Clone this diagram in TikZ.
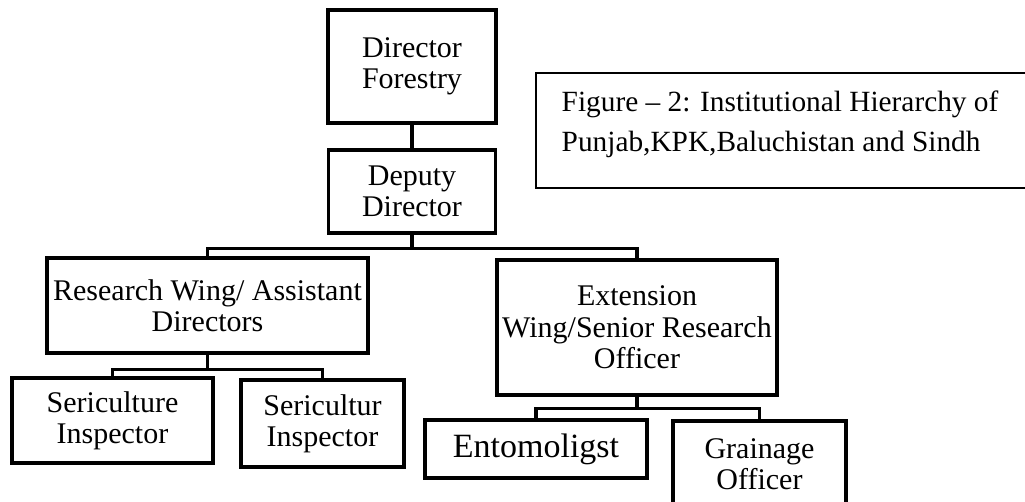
\documentclass[tikz,border=0pt]{standalone}
\usepackage{fontspec}
\setmainfont{Liberation Serif}
\begin{document}
\begin{tikzpicture}[x=0.75pt,y=-0.75pt,
	box/.style={draw,line width=2.7pt,inner sep=0pt,align=center,font=\fontsize{22.5}{23.5}\selectfont},
	link/.style={line width=2.5pt},
	capline/.style={anchor=base west,font=\fontsize{22}{30}\selectfont}]
	\useasboundingbox (0,0) rectangle (1025,502);
	\clip (0,0) rectangle (1025,502);
	% top of the hierarchy
	\node[box,minimum width=126pt,minimum height=84.75pt] (dir) at (412,66.5) {Director\\Forestry};
	\node[box,minimum width=125.25pt,minimum height=62.25pt] (dep) at (412,191.5) {Deputy\\Director};
	% wings
	\node[box,minimum width=240.75pt,minimum height=71.25pt] (res) at (207.5,305.5) {Research Wing/ Assistant\\Directors};
	\node[box,minimum width=210pt,minimum height=101.25pt] (ext) at (637,327.5) {Extension\\Wing/Senior Research\\Officer};
	% staff
	\node[box,minimum width=150.75pt,minimum height=63.75pt] (ser1) at (112.5,420.5) {Sericulture\\Inspector};
	\node[box,minimum width=122.25pt,minimum height=65.25pt] (ser2) at (322.5,423.5) {Sericultur\\Inspector};
	\node[box,minimum width=166.5pt,minimum height=43.5pt,font=\fontsize{25.5}{27}\selectfont] (ent) at (536,449) {Entomoligst};
	\node[box,minimum width=129.75pt,minimum height=64.5pt] (gra) at (759.5,464) {Grainage\\Officer};
	% connectors
	\draw[link] (dir.south) -- (dep.north);
	\draw[link] (dep.south) -- ++(0,14) coordinate (bus1);
	\draw[link] (res.north) |- (bus1) -| (ext.north);
	\draw[link] (res.south) -- ++(0,15) coordinate (bus2);
	\draw[link] (ser1.north) |- (bus2) -| (ser2.north);
	\draw[link] (ext.south) -- ++(0,12) coordinate (bus3);
	\draw[link] (ent.north) |- (bus3) -| (gra.north);
	% caption
	\draw[line width=1.1pt] (1040,73) -- (536,73) -- (536,188) -- (1040,188);
	\node[capline] (cap1) at (557,112) {Figure -- 2: Institutional Hierarchy of};
	\node[capline] (cap2) at (557,152) {Punjab,KPK,Baluchistan and Sindh};
\end{tikzpicture}
\end{document}
